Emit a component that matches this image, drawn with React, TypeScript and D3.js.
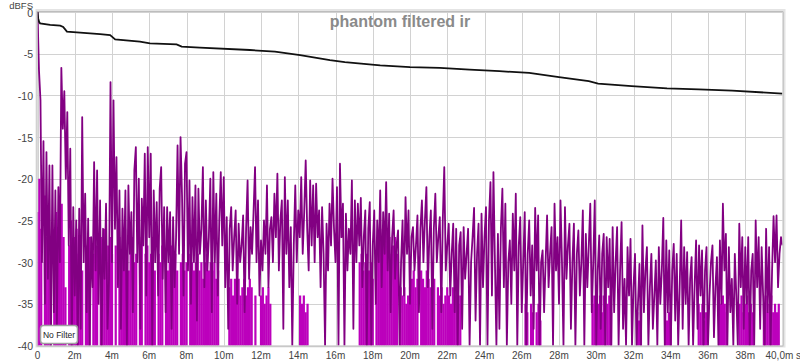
import React from "react";
import * as d3 from "d3";

// ---- Data ----
const title = "phantom filtered ir";
const yTicks = [0, -5, -10, -15, -20, -25, -30, -35, -40];
const xTicks = [0, 2, 4, 6, 8, 10, 12, 14, 16, 18, 20, 22, 24, 26, 28, 30, 32, 34, 36, 38, 40];
const xTickLabels = ["0", "2m", "4m", "6m", "8m", "10m", "12m", "14m", "16m", "18m", "20m", "22m", "24m", "26m", "28m", "30m", "32m", "34m", "36m", "38m", "40,0m s"];

// impulse response magnitude (dBFS), sample step 0.08 ms
const IR_STEP = 0.08;
const ir0 = [0, -7, -10.6, -30, -15.5, -35, -16.8, -32, -18.4, -40, -18.4, -36, -21.4, -38, -21, -30, -6.7, -14, -9.5, -20, -12, -28, -16.4, -40, -23.4, -34, -25, -40, -23.6, -38, -12.6, -30, -21.8, -36, -24.8, -40, -27, -33, -18, -31, -19, -35, -22.6, -40, -26, -32, -23, -38, -32, -8.4];
const ir1 = [-30, -10.6, -26, -17.4, -33, -21.4, -38, -23.6, -31, -21.4, -40, -20.8, -29, -24, -36, -19, -16.2, -30, -20, -38, -22.4, -28, -17, -34, -16.2, -27, -17, -40, -21.4, -30, -22.8, -34, -21.2, -18.6, -32, -23.4, -36, -23.4, -30, -24, -38, -24.6, -33, -27, -16, -29, -15, -22, -34, -18.2];
const ir2 = [-16.8, -31, -20.2, -35, -22.2, -30, -20.8, -37, -21.2, -29, -26, -18.6, -33, -22.6, -31, -27, -20, -36, -19.2, -30, -21.8, -34, -25, -19.2, -28, -19.8, -33, -24.6, -38, -26, -23.4, -31, -27, -23.8, -35, -25.4, -30, -28, -24.4, -36, -26, -20.2, -32, -25.8, -29, -24, -18.6, -30, -22.6, -34];
const ir3 = [-27.4, -31, -25, -29, -20.8, -33, -26, -24.6, -30, -21.8, -27, -19.4, -31, -25, -22.6, -38, -19.8, -29, -22.6, -33, -25.8, -40, -28, -20.8, -30, -23.8, -27, -19.8, -29, -24, -17.8, -26, -31, -20.2, -28, -20.8, -30, -20.6, -27, -23.8, -33, -23.4, -29, -40, -25.4, -31, -23, -28, -20, -26];
const ir4 = [-30, -21, -40, -18.2, -27, -23, -40, -24.2, -31, -26, -29, -20.2, -38, -22.6, -30, -23, -28, -22.3, -33, -27, -23.8, -40, -26, -22.8, -40, -28, -23.8, -35, -25, -30, -21.4, -33, -24, -29, -20.4, -31, -24.2, -36, -27, -23.8, -32, -28, -26.2, -40, -30, -25, -34, -22.2, -29, -23.8];
const ir5 = [-35, -27, -25.8, -31, -28, -24.4, -36, -26, -22.6, -30, -25, -21, -33, -27, -23.8, -38, -26, -21.8, -30, -27, -24.6, -36, -25, -18.6, -31, -28, -25.4, -34, -29, -25.4, -36, -26, -40, -28, -26.4, -38, -25.8, -32, -29, -26, -40, -30, -27, -23.5, -37, -29, -25.4, -40, -24.2, -33];
const ir6 = [-27, -23.4, -40, -25, -20.4, -34, -19.2, -30, -40, -26.6, -38, -26, -21.2, -33, -23, -40, -30, -27.4, -35, -24.2, -31, -21.8, -40, -28, -24.6, -36, -30, -24, -40, -29, -25, -34, -28, -38, -23.5, -31, -24.4, -40, -30, -28.6, -36, -30, -24.4, -33, -29, -25.8, -40, -23, -31, -27];
const ir7 = [-35, -22.6, -30, -40, -23.4, -32, -28, -25.4, -38, -30, -25.4, -40, -29, -26.2, -34, -30, -23.8, -40, -26.6, -33, -28, -23, -36, -30, -22.6, -40, -31, -26.8, -38, -29, -26.6, -40, -27, -33, -27.2, -40, -25.8, -36, -30, -25.8, -40, -31, -25.2, -38, -32, -40, -28.2, -34, -27.2, -40];
const ir8 = [-33, -29, -40, -35, -30.2, -40, -25.6, -36, -31, -28.2, -40, -33, -29, -38, -34, -29.8, -40, -28.2, -35, -31, -24.7, -40, -27.4, -36, -28.6, -40, -31, -27.8, -37, -29, -40, -33, -25, -38, -28.2, -35, -28.8, -40, -32, -29.4, -40, -33, -27.4, -38, -28, -34, -28.6, -40, -31, -28.2];
const ir9 = [-40, -34, -30, -28, -39, -33, -29.4, -40, -27.4, -35, -23, -31, -26.6, -40, -28.2, -36, -32, -40, -29, -34, -40, -25.4, -33, -27, -38, -28.2, -35, -27, -40, -31, -29, -40, -25, -33, -27, -38, -28.2, -34, -40, -26, -36, -28.2, -40, -31, -24.5, -30, -24.4, -33, -29, -27, -28];

// lighter trace tops, step 0.1 ms
const LIGHT_STEP = 0.1;
const lt0 = [-24, -20, -26, -40, -22, -27, -25, -29, -40, -26, -24, -28, -26, -23, -27, -33, -40, -28, -25, -30, -27, -26, -29, -27, -31, -40, -28, -30, -27, -40, -29, -26, -28, -40, -27, -29, -26, -30, -28, -27];
const lt1 = [-29, -40, -28, -40, -27, -30, -28, -26, -29, -31, -28, -27, -30, -29, -40, -28, -27, -40, -29, -28, -30, -29, -27, -31, -40, -29, -30, -28, -40, -29, -31, -30, -28, -30, -29, -31, -40, -30, -29, -31];
const lt2 = [-30, -40, -29, -30, -31, -30, -29, -31, -30, -32, -30, -29, -31, -30, -31, -30, -32, -31, -40, -40, -40, -40, -40, -33, -32, -34, -32, -33, -32, -34, -33, -32, -34, -33, -32, -33, -40, -34, -40, -40];
const lt3 = [-34, -33, -35, -34, -33, -35, -40, -40, -40, -40, -40, -40, -40, -40, -40, -40, -40, -40, -40, -40, -40, -34, -35, -34, -36, -35, -40, -40, -40, -40, -40, -40, -40, -40, -40, -40, -40, -40, -40, -40];
const lt4 = [-40, -40, -40, -40, -40, -40, -40, -40, -40, -40, -40, -40, -40, -30, -29, -31, -30, -29, -31, -30, -32, -40, -29, -27, -26, -28, -27, -26, -28, -27, -29, -28, -27, -29, -40, -33, -34, -33, -35, -34];
const lt5 = [-33, -32, -31, -33, -32, -40, -31, -32, -33, -31, -32, -33, -31, -32, -40, -33, -34, -33, -35, -34, -33, -34, -35, -33, -34, -33, -35, -34, -40, -40, -40, -40, -40, -40, -40, -40, -40, -40, -40, -40];
const lt6 = [-40, -40, -40, -40, -40, -40, -40, -40, -40, -40, -40, -40, -40, -40, -40, -40, -40, -40, -40, -40, -40, -40, -35, -36, -40, -35, -36, -40, -36, -35, -37, -40, -40, -40, -40, -40, -40, -40, -40, -40];
const lt7 = [-40, -40, -40, -40, -40, -40, -40, -40, -40, -40, -40, -40, -40, -40, -40, -40, -40, -40, -35, -34, -36, -35, -34, -36, -34, -33, -35, -34, -36, -40, -40, -40, -40, -40, -40, -40, -40, -40, -40, -40];
const lt8 = [-40, -40, -36, -37, -36, -40, -40, -40, -40, -40, -40, -40, -40, -40, -40, -40, -40, -36, -37, -36, -37, -40, -40, -40, -40, -40, -40, -40, -40, -40, -40, -40, -40, -40, -40, -35, -36, -35, -37, -36];
const lt9 = [-40, -40, -40, -40, -40, -40, -34, -35, -34, -35, -36, -40, -40, -40, -40, -40, -40, -35, -34, -36, -35, -34, -36, -35, -36, -40, -40, -40, -40, -40, -35, -34, -36, -35, -34, -36, -35, -36, -35, -40];

// energy decay (integrated) curve
const decayT = [0, 0.04, 0.09, 0.14, 0.68, 1.22, 1.38, 1.58, 2.29, 3.36, 3.9, 4.17, 5.5, 6.04, 7.47, 7.74, 8.72, 11.4, 12.75, 14.1, 15.7, 16.5, 18.4, 20.0, 21.6, 23.2, 24.8, 26.4, 28.0, 29.6, 30.1, 31.9, 33.8, 35.5, 37.3, 40.0];
const decayDb = [0, -0.8, -1.2, -1.36, -1.55, -1.64, -1.8, -2.36, -2.48, -2.65, -2.76, -3.28, -3.56, -3.76, -3.88, -4.16, -4.28, -4.56, -4.76, -5.16, -5.76, -6.0, -6.4, -6.6, -6.7, -6.9, -7.1, -7.3, -7.8, -8.3, -8.6, -8.88, -9.16, -9.28, -9.44, -9.78];

const legendLabel = "No Filter";

// ---- Layout ----
const W = 800, H = 362;
const x = d3.scaleLinear().domain([0, 40]).range([37.5, 782.5]);
const y = d3.scaleLinear().domain([-40, 0]).range([345.5, 12]);

export default function App() {
  const irValues = [...ir0, ...ir1, ...ir2, ...ir3, ...ir4, ...ir5, ...ir6, ...ir7, ...ir8, ...ir9];
  const irPts: [number, number][] = irValues.map((v, i) => [i * IR_STEP, v]);
  const lightValues = [...lt0, ...lt1, ...lt2, ...lt3, ...lt4, ...lt5, ...lt6, ...lt7, ...lt8, ...lt9];
  const decayPts: [number, number][] = decayT.map((t, i) => [t, decayDb[i]]);

  const line = d3.line<[number, number]>().x(d => x(d[0])).y(d => y(d[1]));
  const font = "'Liberation Sans', Arial, sans-serif";
  const [x0, x1] = x.range();
  const [yb, yt] = y.range();

  return (
    <div style={{ position: "absolute", left: 0, top: 0 }}>
      <svg width={W} height={H} style={{ display: "block", background: "#fff" }}>
        <defs>
          <clipPath id="plotClip">
            <rect x={x0} y={yt} width={x1 - x0} height={yb - yt} />
          </clipPath>
        </defs>
        {/* frame shadow */}
        <rect x={x0 - 1} y={yt - 2} width={x1 - x0 + 3} height={yb - yt + 3} fill="none" stroke="#e4e4e4" strokeWidth={2} />
        <rect x={x0} y={yt} width={x1 - x0} height={yb - yt} fill="#fff" />
        {/* grid */}
        {xTicks.map(t => (
          <line key={"gx" + t} x1={Math.round(x(t)) + 0.5} x2={Math.round(x(t)) + 0.5} y1={yt} y2={yb} stroke="#d2d2d2" strokeWidth={1} />
        ))}
        {yTicks.map(t => (
          <line key={"gy" + t} x1={x0} x2={x1} y1={Math.round(y(t)) + 0.5} y2={Math.round(y(t)) + 0.5} stroke="#d2d2d2" strokeWidth={1} />
        ))}
        {/* title */}
        <text x={400} y={27} textAnchor="middle" fontFamily={font} fontWeight="bold" fontSize={16} fill="#8a8a8a">{title}</text>
        <g clipPath="url(#plotClip)">
          {lightValues.map((v, i) => (
            v > -40 ? <line key={"l" + i} x1={x(i * LIGHT_STEP)} x2={x(i * LIGHT_STEP)} y1={y(-40) + 2} y2={y(v)} stroke="#bc00bc" strokeWidth={2.2} /> : null
          ))}
          <path d={line(irPts) || ""} fill="none" stroke="#820082" strokeWidth={1.8} strokeLinejoin="round" />
          <path d={line(decayPts) || ""} fill="none" stroke="#111" strokeWidth={1.8} />
        </g>
        {/* frame */}
        <rect x={x0 - 0.5} y={yt - 0.5} width={x1 - x0 + 1} height={yb - yt + 1} fill="none" stroke="#bdbdbd" strokeWidth={1} />
        {/* y labels */}
        <text x={33} y={8.5} textAnchor="end" fontFamily={font} fontSize={9.5} fill="#444">dBFS</text>
        {yTicks.map(t => (
          <text key={"yl" + t} x={33} y={y(t) + 4.5} textAnchor="end" fontFamily={font} fontSize={10.5} fill="#444">{t === 0 ? "0" : "-" + Math.abs(t)}</text>
        ))}
        {/* x labels */}
        {xTicks.map((t, i) => (
          <text key={"xl" + t} x={i === xTicks.length - 1 ? x(t) - 17 : x(t)} y={359} textAnchor={i === xTicks.length - 1 ? "start" : "middle"} fontFamily={font} fontSize={10} fill="#444">{xTickLabels[i]}</text>
        ))}
        {/* legend */}
        <rect x={40.5} y={325.5} width={37} height={18} rx={3} fill="#fff" stroke="#a0a0a0" strokeWidth={1.5} />
        <text x={59} y={338} textAnchor="middle" fontFamily={font} fontSize={8.5} fill="#222">{legendLabel}</text>
      </svg>
    </div>
  );
}
